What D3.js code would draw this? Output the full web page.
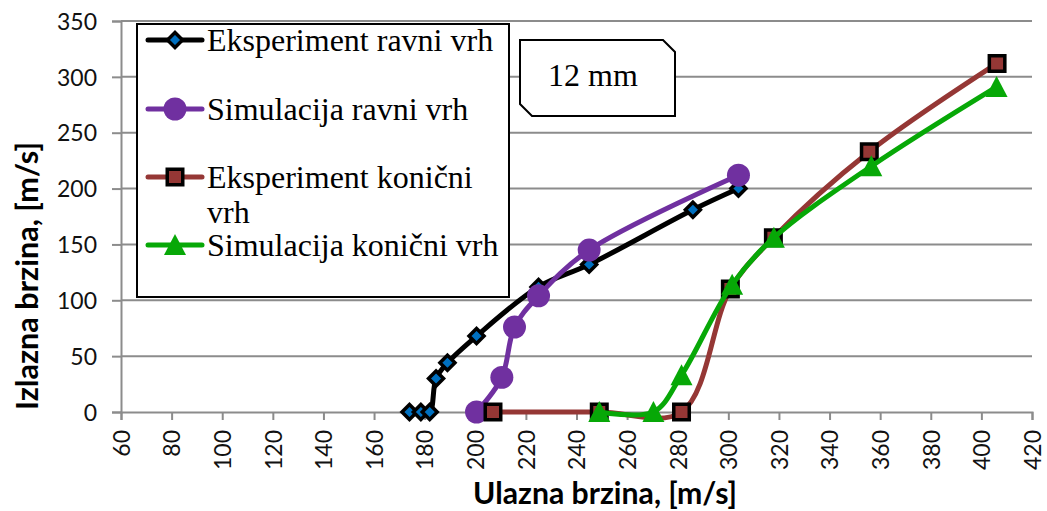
<!DOCTYPE html>
<html>
<head>
<meta charset="utf-8">
<script src="https://cdn.jsdelivr.net/npm/d3@7"></script>
<style>
  html, body { margin: 0; padding: 0; background: #fff; }
  svg { display: block; }
</style>
</head>
<body>
<svg id="chart" width="1047" height="511"></svg>
<script>
// Ulazna / izlazna brzina, 12 mm
const xTicks = [60, 80, 100, 120, 140, 160, 180, 200, 220, 240, 260, 280, 300, 320, 340, 360, 380, 400, 420];
const yTicks = [0, 50, 100, 150, 200, 250, 300, 350];

const expRavniX = [174, 178.5, 182, 184.5, 189, 200.5, 225, 245, 286, 304];
const expRavniY = [0, 0, 0, 30, 44, 68, 112, 132, 181, 200];

const simRavniX = [200.5, 210.5, 215.5, 225, 245, 304];
const simRavniY = [0, 31, 76, 104, 145, 212];

const expKonicniX = [207, 249, 281.5, 300.8, 317.8, 355.7, 406.2];
const expKonicniY = [0, 0, 0, 110, 156, 233, 312];

const simKonicniX = [249, 270.4, 281.5, 301.5, 318, 356.5, 406];
const simKonicniY = [0, 0, 33, 114, 156, 220, 291];

const seriesNames = ["Eksperiment ravni vrh", "Simulacija ravni vrh", "Eksperiment konični vrh", "Simulacija konični vrh"];

const svg = d3.select("#chart");
const x = d3.scaleLinear().domain([60, 420]).range([121, 1032]);
const y = d3.scaleLinear().domain([0, 350]).range([412, 21]);

const gridColor = "#8c8c8c";
const tickFont = "Lato, 'Open Sans', sans-serif";

// horizontal gridlines
svg.append("g").selectAll("line").data(yTicks.filter(d => d > 0)).join("line")
  .attr("x1", x(60)).attr("x2", x(420))
  .attr("y1", d => y(d)).attr("y2", d => y(d))
  .attr("stroke", gridColor).attr("stroke-width", 2);

// y axis
const yAxis = svg.append("g").attr("transform", `translate(${x(60)},0)`)
  .call(d3.axisLeft(y).tickValues(yTicks).tickSize(9).tickPadding(15));
yAxis.select(".domain").attr("stroke", gridColor).attr("stroke-width", 2);
yAxis.selectAll(".tick line").attr("stroke", gridColor).attr("stroke-width", 2);
yAxis.selectAll(".tick text")
  .attr("font-family", tickFont).attr("font-size", 23)
  .attr("fill", "#111").attr("dy", "0.36em");

// x axis
const xAxis = svg.append("g").attr("transform", `translate(0,${y(0)})`)
  .call(d3.axisBottom(x).tickValues(xTicks).tickSize(8).tickFormat(d3.format("d")));
xAxis.select(".domain").attr("stroke", gridColor).attr("stroke-width", 2);
xAxis.selectAll(".tick line").attr("stroke", gridColor).attr("stroke-width", 2);
xAxis.selectAll(".tick text")
  .attr("font-family", tickFont).attr("font-size", 23)
  .attr("fill", "#111")
  .attr("text-anchor", "end")
  .attr("transform", "translate(0,18) rotate(-90)")
  .attr("x", 0).attr("y", 0).attr("dy", "0.36em");

// axis titles
const titleFont = "Lato, 'Open Sans', sans-serif";
svg.append("text")
  .attr("x", 605).attr("y", 504)
  .attr("text-anchor", "middle")
  .attr("font-family", titleFont).attr("font-weight", "bold").attr("font-size", 30)
  .attr("textLength", 264).attr("lengthAdjust", "spacingAndGlyphs")
  .text("Ulazna brzina, [m/s]");
svg.append("text")
  .attr("transform", "translate(38,276) rotate(-90)")
  .attr("text-anchor", "middle")
  .attr("font-family", titleFont).attr("font-weight", "bold").attr("font-size", 30)
  .attr("textLength", 268).attr("lengthAdjust", "spacingAndGlyphs")
  .text("Izlazna brzina, [m/s]");

// series
const line = d3.line().curve(d3.curveCatmullRom.alpha(0.5)).x(d => x(d[0])).y(d => y(d[1]));
const zip = (a, b) => a.map((v, i) => [v, b[i]]);

const diamond = "M0,-7.5L7.5,0L0,7.5L-7.5,0Z";
const square = "M-7.75,-7.75H7.75V7.75H-7.75Z";
const triangle = "M0,-11L11,10L-11,10Z";
const circle = d3.symbol().type(d3.symbolCircle).size(415)();

const series = [
  { name: seriesNames[0], pts: zip(expRavniX, expRavniY), color: "#000000",
    d: diamond, fill: "#0070C0", stroke: "#000", sw: 3.5 },
  { name: seriesNames[1], pts: zip(simRavniX, simRavniY), color: "#7030A0",
    d: circle, fill: "#7030A0", stroke: "none", sw: 0 },
  { name: seriesNames[2], pts: zip(expKonicniX, expKonicniY), color: "#953735",
    d: square, fill: "#953735", stroke: "#000", sw: 3.5 },
  { name: seriesNames[3], pts: zip(simKonicniX, simKonicniY), color: "#07A807",
    d: triangle, fill: "#07A807", stroke: "none", sw: 0 }
];

series.forEach(s => {
  const g = svg.append("g");
  g.append("path").datum(s.pts)
    .attr("d", line).attr("fill", "none")
    .attr("stroke", s.color).attr("stroke-width", 5)
    .attr("stroke-linejoin", "round").attr("stroke-linecap", "round");
  g.selectAll("path.m").data(s.pts).join("path").attr("class", "m")
    .attr("transform", d => `translate(${x(d[0])},${y(d[1])})`)
    .attr("d", s.d)
    .attr("fill", s.fill).attr("stroke", s.stroke).attr("stroke-width", s.sw)
    .attr("stroke-linejoin", "miter");
});

// legend
const lg = svg.append("g");
lg.append("rect").attr("x", 137).attr("y", 24).attr("width", 372).attr("height", 273)
  .attr("fill", "#fff").attr("stroke", "#000").attr("stroke-width", 2);
const legendRows = [40, 109, 177, 245];
const serif = "'Liberation Serif', 'Times New Roman', serif";
series.forEach((s, i) => {
  const cy = legendRows[i];
  lg.append("line").attr("x1", 148).attr("x2", 202).attr("y1", cy).attr("y2", cy)
    .attr("stroke", s.color).attr("stroke-width", 5).attr("stroke-linecap", "round");
  lg.append("path").attr("transform", `translate(175,${cy})`)
    .attr("d", s.d)
    .attr("fill", s.fill).attr("stroke", s.stroke).attr("stroke-width", s.sw);
  const t = lg.append("text").attr("x", 207).attr("y", cy + 11)
    .attr("font-family", serif).attr("font-size", 32).attr("fill", "#000");
  if (i === 2) {
    t.text("Eksperiment konični");
    lg.append("text").attr("x", 207).attr("y", cy + 46)
      .attr("font-family", serif).attr("font-size", 32).attr("fill", "#000").text("vrh");
  } else {
    t.text(s.name);
  }
});

// "12 mm" label box with clipped corners
const bx = 520, by = 40, bw = 155, bh = 76, c = 12;
svg.append("path")
  .attr("d", `M${bx},${by} L${bx + bw - c},${by} L${bx + bw},${by + c} L${bx + bw},${by + bh} L${bx + c},${by + bh} L${bx},${by + bh - c} Z`)
  .attr("fill", "#fff").attr("stroke", "#000").attr("stroke-width", 2);
svg.append("text").attr("x", 593).attr("y", 86)
  .attr("text-anchor", "middle")
  .attr("font-family", serif).attr("font-size", 32).attr("fill", "#000")
  .text("12 mm");
</script>
</body>
</html>
